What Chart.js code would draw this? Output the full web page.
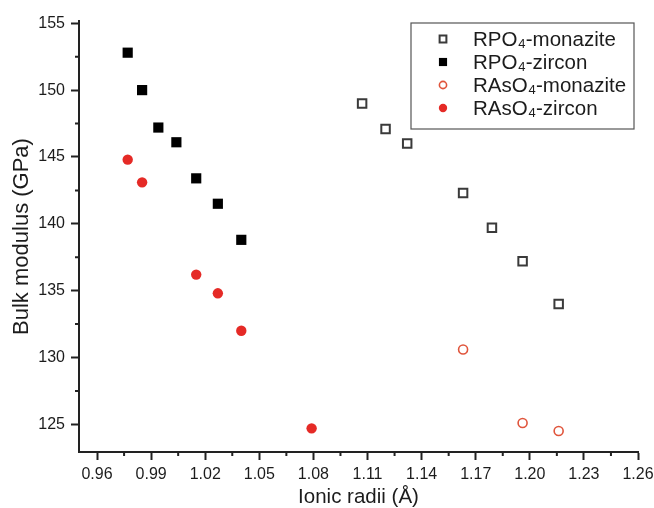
<!DOCTYPE html>
<html lang="en">
<head>
  <meta charset="UTF-8">
  <title>Bulk modulus vs ionic radii</title>
  <script src="https://cdn.jsdelivr.net/npm/chart.js"></script>
  <style>
    html, body { margin: 0; padding: 0; background: #fff; }
    #wrap { width: 654px; height: 508px; }
  </style>
</head>
<body>
  <div id="wrap"><canvas id="bulkChart" width="654" height="508"></canvas></div>
  <script>
    // values
    const rpoMonaziteX = [1.107, 1.120, 1.132, 1.163, 1.179, 1.196, 1.216];
    const rpoMonaziteY = [149.0, 147.1, 146.0, 142.3, 139.7, 137.2, 134.0];

    const rpoZirconX = [0.977, 0.985, 0.994, 1.004, 1.015, 1.027, 1.040];
    const rpoZirconY = [152.8, 150.0, 147.2, 146.1, 143.4, 141.5, 138.8];

    const rasoMonaziteX = [1.163, 1.196, 1.216];
    const rasoMonaziteY = [130.6, 125.1, 124.5];

    const rasoZirconX = [0.977, 0.985, 1.015, 1.027, 1.040, 1.079];
    const rasoZirconY = [144.8, 143.1, 136.2, 134.8, 132.0, 124.7];

    const xTicks = [0.96, 0.99, 1.02, 1.05, 1.08, 1.11, 1.14, 1.17, 1.20, 1.23, 1.26];
    const xMinor = [0.975, 1.005, 1.035, 1.065, 1.095, 1.125, 1.155, 1.185, 1.215, 1.245];
    const yTicks = [125, 130, 135, 140, 145, 150, 155];
    const yMinor = [127.5, 132.5, 137.5, 142.5, 147.5, 152.5];

    function toPoints(xs, ys) {
      return xs.map((x, i) => ({ x: x, y: ys[i] }));
    }

    const axisColor = '#222';
    const textColor = '#1c1c1c';
    const fontFamily = '"Liberation Sans", Arial, sans-serif';

    // minor ticks, drawn from the scales
    const minorTicks = {
      id: 'minorTicks',
      afterDraw(chart) {
        const ctx = chart.ctx;
        const xs = chart.scales.x, ys = chart.scales.y;
        ctx.save();
        ctx.strokeStyle = axisColor;
        ctx.lineWidth = 2;
        ctx.beginPath();
        xMinor.forEach(v => {
          const px = xs.getPixelForValue(v);
          ctx.moveTo(px, xs.top);
          ctx.lineTo(px, xs.top + 4);
        });
        yMinor.forEach(v => {
          const py = ys.getPixelForValue(v);
          ctx.moveTo(ys.right, py);
          ctx.lineTo(ys.right - 4, py);
        });
        ctx.stroke();
        ctx.restore();
      }
    };

    // boxed legend inside the top right of the plot
    const boxLegend = {
      id: 'boxLegend',
      afterDraw(chart) {
        const ctx = chart.ctx;
        const area = chart.chartArea;
        const w = 223, h = 106;
        const left = area.right - w - 4;
        const top = area.top + 2;
        ctx.save();
        ctx.fillStyle = '#fff';
        ctx.fillRect(left, top, w, h);
        ctx.strokeStyle = '#555';
        ctx.lineWidth = 1.2;
        ctx.strokeRect(left, top, w, h);
        ctx.font = '20.5px ' + fontFamily;
        ctx.textBaseline = 'middle';
        chart.data.datasets.forEach((ds, i) => {
          const cy = top + 16 + i * 23;
          const style = {
            pointStyle: ds.pointStyle,
            radius: ds.pointRadius * 0.8,
            borderWidth: ds.borderWidth
          };
          ctx.fillStyle = ds.backgroundColor;
          ctx.strokeStyle = ds.borderColor;
          ctx.lineWidth = ds.borderWidth;
          Chart.helpers.drawPoint(ctx, style, left + 32, cy);
          ctx.fillStyle = textColor;
          ctx.fillText(ds.label, left + 62, cy + 1);
        });
        ctx.restore();
      }
    };

    const ctx = document.getElementById('bulkChart').getContext('2d');
    new Chart(ctx, {
      type: 'scatter',
      data: {
        datasets: [{
          label: 'RPO\u2084-monazite',
          data: toPoints(rpoMonaziteX, rpoMonaziteY),
          pointStyle: 'rect',
          pointRadius: 6,
          borderWidth: 2,
          borderColor: '#3a3a3a',
          backgroundColor: 'rgba(255,255,255,0)'
        }, {
          label: 'RPO\u2084-zircon',
          data: toPoints(rpoZirconX, rpoZirconY),
          pointStyle: 'rect',
          pointRadius: 7.2,
          borderWidth: 0,
          borderColor: '#000',
          backgroundColor: '#000'
        }, {
          label: 'RAsO\u2084-monazite',
          data: toPoints(rasoMonaziteX, rasoMonaziteY),
          pointStyle: 'circle',
          pointRadius: 4.5,
          borderWidth: 1.6,
          borderColor: '#e0553c',
          backgroundColor: 'rgba(255,255,255,0)'
        }, {
          label: 'RAsO\u2084-zircon',
          data: toPoints(rasoZirconX, rasoZirconY),
          pointStyle: 'circle',
          pointRadius: 5.2,
          borderWidth: 0,
          borderColor: '#e52a26',
          backgroundColor: '#e52a26'
        }]
      },
      options: {
        responsive: false,
        animation: false,
        layout: { padding: { left: 0, right: 16, top: 21, bottom: 0 } },
        plugins: {
          legend: { display: false },
          tooltip: { enabled: false }
        },
        scales: {
          x: {
            type: 'linear',
            min: 0.95,
            max: 1.26,
            afterBuildTicks: s => { s.ticks = xTicks.map(v => ({ value: v })); },
            afterFit: s => { s.height = 56; s.paddingLeft = 0; s.paddingRight = 0; },
            border: { display: true, color: axisColor, width: 2 },
            grid: { drawOnChartArea: false, drawTicks: true, tickLength: 8, tickWidth: 2, tickColor: axisColor },
            ticks: {
              color: textColor,
              padding: 5,
              maxRotation: 0,
              font: { family: fontFamily, size: 16 },
              callback: v => Number(v).toFixed(2)
            },
            title: {
              display: true,
              text: 'Ionic radii (\u00C5)',
              color: textColor,
              padding: { top: 0, bottom: 0 },
              font: { family: fontFamily, size: 20.5, lineHeight: 1.05 }
            }
          },
          y: {
            type: 'linear',
            min: 122.93,
            max: 155.17,
            afterBuildTicks: s => { s.ticks = yTicks.map(v => ({ value: v })); },
            afterFit: s => { s.width = 79; s.paddingTop = 0; s.paddingBottom = 0; },
            border: { display: true, color: axisColor, width: 2 },
            grid: { drawOnChartArea: false, drawTicks: true, tickLength: 8, tickWidth: 2, tickColor: axisColor },
            ticks: {
              color: textColor,
              padding: 6,
              font: { family: fontFamily, size: 16 },
              callback: v => String(v)
            },
            title: {
              display: true,
              text: 'Bulk modulus (GPa)',
              color: textColor,
              padding: { top: 10, bottom: 0 },
              font: { family: fontFamily, size: 22, lineHeight: 1.05 }
            }
          }
        }
      },
      plugins: [minorTicks, boxLegend]
    });
  </script>
</body>
</html>
